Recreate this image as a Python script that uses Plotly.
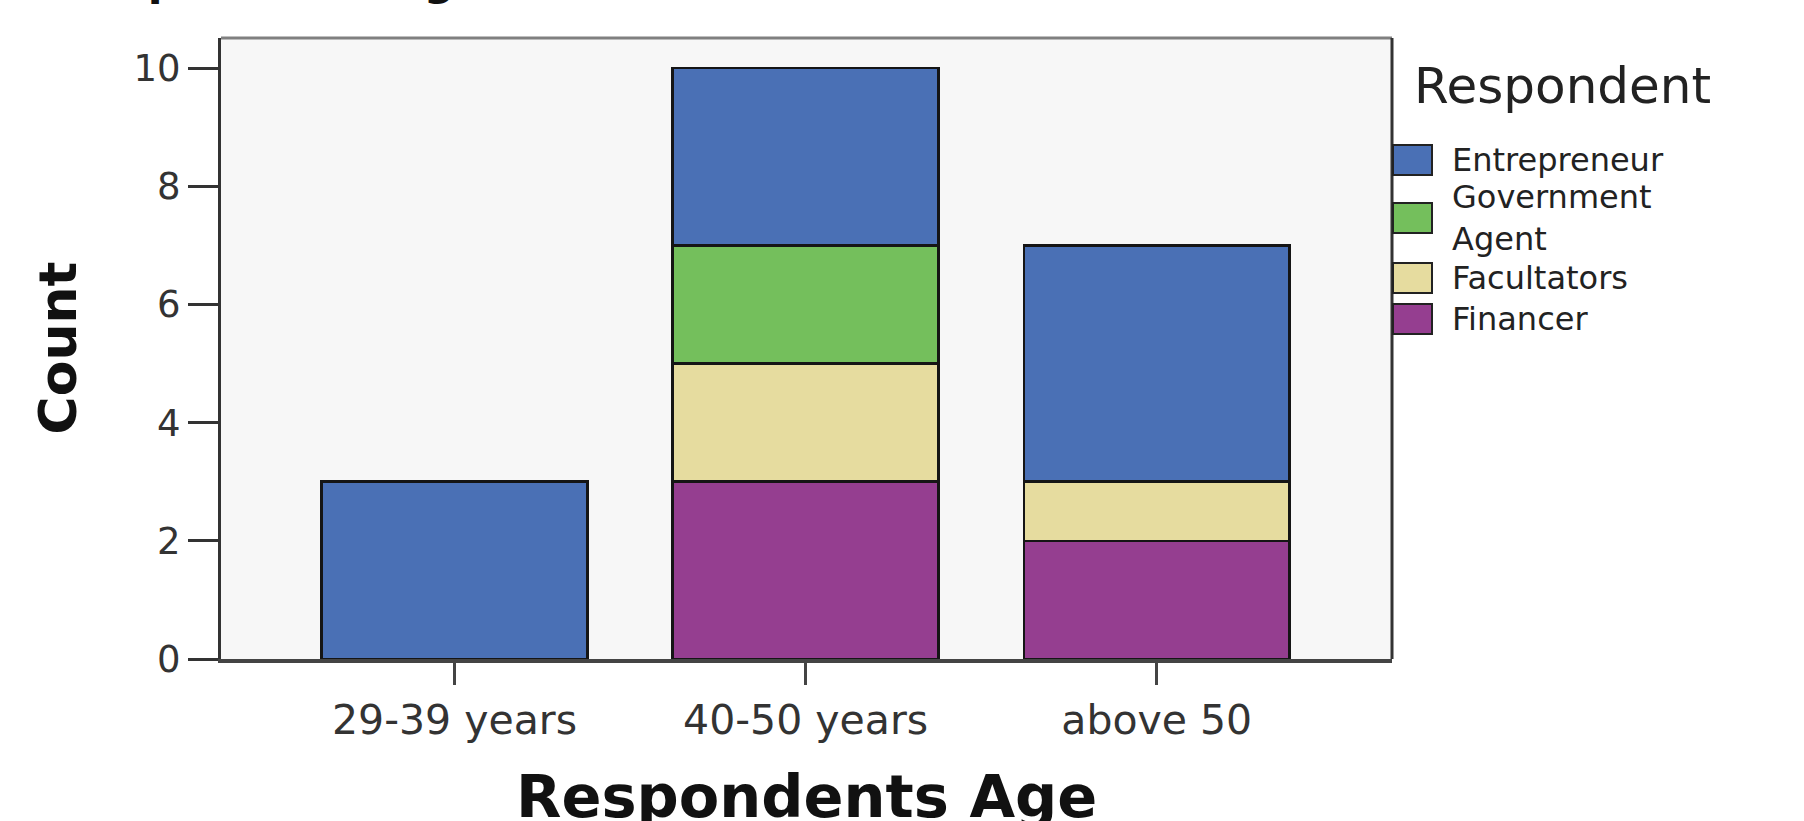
import plotly.graph_objects as go

# ---- data ----
age_groups = ["29-39 years", "40-50 years", "above 50"]
series_names = ["Financer", "Facultators", "Government Agent", "Entrepreneur"]  # bottom -> top
financer = [None, 3, 2]
facultators = [None, 2, 1]
government_agent = [None, 2, None]
entrepreneur = [3, 3, 4]
y_ticks = [0, 2, 4, 6, 8, 10]

series_values = [financer, facultators, government_agent, entrepreneur]
colors = {"Entrepreneur": "#4A70B5", "Government Agent": "#74BF5C",
          "Facultators": "#E6DC9F", "Financer": "#953E90"}
legend_order = ["Entrepreneur", "Government Agent", "Facultators", "Financer"]
legend_labels = {"Entrepreneur": "Entrepreneur", "Government Agent": "Government<br>Agent",
                 "Facultators": "Facultators", "Financer": "Financer"}

FONT = "DejaVu Sans"
W, H = 1804, 821
L, R, T, B = 221, 412, 38, 162

fig = go.Figure()
for name, vals in zip(series_names, series_values):
    fig.add_trace(go.Bar(
        x=age_groups, y=vals, name=name, width=0.757,
        marker=dict(color=colors[name], line=dict(color="#151515", width=2.5)),
        showlegend=False,
    ))

fig.update_layout(
    width=W, height=H, barmode="stack",
    margin=dict(l=L, r=R, t=T, b=B, autoexpand=False),
    paper_bgcolor="white", plot_bgcolor="#F7F7F7",
    font=dict(family=FONT, color="#222"),
)
fig.update_xaxes(
    type="category", range=[-0.665, 2.67], showgrid=False, zeroline=False,
    showline=True, linecolor="#444", linewidth=4,
    ticks="outside", ticklen=22, tickwidth=3, tickcolor="#444",
    tickfont=dict(size=41, family=FONT, color="#333"),
)
fig.update_yaxes(
    range=[0, 10.51], tickvals=y_ticks, showgrid=False, zeroline=False,
    showline=True, linecolor="#333", linewidth=3,
    ticks="outside", ticklen=30, tickwidth=3, tickcolor="#333",
    tickfont=dict(size=37, family=FONT, color="#333"),
)

# frame top & right
fig.add_shape(type="line", xref="paper", yref="paper", x0=0, x1=1, y0=1, y1=1,
              line=dict(color="#808080", width=3))
fig.add_shape(type="line", xref="paper", yref="paper", x0=1, x1=1, y0=0, y1=1,
              line=dict(color="#333", width=3))

# axis titles
fig.add_annotation(text="<b>Count</b>", textangle=-90, xref="paper", yref="paper",
                   x=0, y=0.5, xshift=-164, xanchor="center", yanchor="middle",
                   showarrow=False, font=dict(size=52, family=FONT, color="#111"))
fig.add_annotation(text="<b>Respondents Age</b>", xref="paper", yref="paper",
                   x=0.5, y=0, yshift=-101, xanchor="center", yanchor="top",
                   showarrow=False, font=dict(size=59, family=FONT, color="#111"))
# cropped chart title at the very top
fig.add_annotation(text="<b>Respondents Age</b>", xref="paper", yref="paper",
                   x=0, y=1, xshift=58 - L, yshift=31, xanchor="left", yanchor="bottom",
                   showarrow=False, font=dict(size=43, family=FONT, color="#111"))

# custom legend
fig.add_annotation(text="Respondent", xref="paper", yref="paper", x=1, y=1,
                   xshift=20, yshift=-(86 - T), xanchor="left", yanchor="middle",
                   showarrow=False, font=dict(size=50, family=FONT, color="#222"))
centers = {"Entrepreneur": 160, "Government Agent": 218, "Facultators": 278, "Financer": 319}
for name in legend_order:
    cy = centers[name]
    fig.add_shape(type="rect", xref="paper", yref="paper",
                  xsizemode="pixel", ysizemode="pixel", xanchor=1, yanchor=1,
                  x0=1, x1=40, y0=-(cy - T) + 15, y1=-(cy - T) - 15,
                  fillcolor=colors[name], line=dict(color="#222", width=2))
    fig.add_annotation(text=legend_labels[name], xref="paper", yref="paper", x=1, y=1,
                       xshift=58, yshift=-(cy - T), xanchor="left", yanchor="middle",
                       align="left", showarrow=False,
                       font=dict(size=32, family=FONT, color="#222"))

fig.write_html("out.html")
